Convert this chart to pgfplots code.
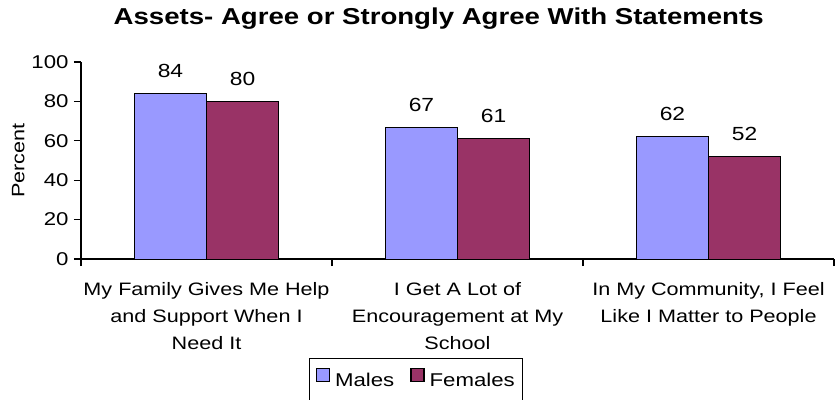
\documentclass[border=0pt]{standalone}
\usepackage{fontspec}
\setmainfont{Liberation Sans}[FakeStretch=1.2]
\usepackage{pgfplots}
\pgfplotsset{compat=1.18}
\definecolor{males}{HTML}{9999FF}
\definecolor{females}{HTML}{993366}
\begin{document}
\begin{tikzpicture}
\begin{axis}[
  name=ax,
  scale only axis,
  width=753pt, height=197pt,
  xmin=-0.5, xmax=2.5, ymin=0, ymax=100,
  axis x line*=bottom, axis y line*=left,
  axis line style={black, line width=1.3pt},
  ytick={0,20,40,60,80,100},
  xtick={-0.5,0.5,1.5,2.5},
  xticklabels={},
  extra x ticks={0,1,2},
  extra x tick style={major tick length=0pt, tick style={draw=none}},
  extra x tick labels={{My Family Gives Me Help\\and Support When I\\Need It},{I Get A Lot of\\Encouragement at My\\School},{In My Community, I Feel\\Like I Matter to People}},
  xticklabel style={align=center, font=\fontsize{18}{27}\selectfont, anchor=north, yshift=-20pt},
  yticklabel style={font=\fontsize{18.5}{20}\selectfont, xshift=-2pt},
  tick style={black, line width=1.3pt},
  major tick length=7pt,
  tick align=outside,
  /pgf/number format/assume math mode=true,
  ylabel={Percent},
  ylabel style={font=\fontsize{18}{20}\selectfont},
  title={\bfseries Assets- Agree or Strongly Agree With Statements},
  title style={font=\fontsize{23}{26}\selectfont, at={(rel axis cs:0.475,1)}, anchor=base, yshift=32pt},
  ybar, bar width=0.287,
  nodes near coords,
  nodes near coords style={font=\fontsize{19}{20}\selectfont, anchor=base, yshift=16pt},
  legend style={at={(rel axis cs:0.303,-0.5)}, anchor=north west, legend columns=2, draw=black, line width=1.3pt, font=\fontsize{18.5}{20}\selectfont, inner xsep=6pt, inner ysep=10pt, /tikz/every even column/.append style={column sep=14pt}, /tikz/every odd column/.append style={column sep=3pt}},
  legend image code/.code={\draw[line width=1.3pt,#1] (0pt,-1pt) rectangle (13pt,12pt);},
]
\addplot[fill=males, draw=black, line width=1pt, bar shift=-0.1435] coordinates {(0,84) (1,67) (2,62)};
\addplot[fill=females, draw=black, line width=1pt, bar shift=0.1435] coordinates {(0,80) (1,61) (2,52)};
\legend{Males,Females}
\end{axis}
\pgfresetboundingbox
\path[use as bounding box] ([xshift=-81pt,yshift=-140pt]ax.south west) rectangle ([xshift=1pt,yshift=62pt]ax.north east);
\end{tikzpicture}
\end{document}
